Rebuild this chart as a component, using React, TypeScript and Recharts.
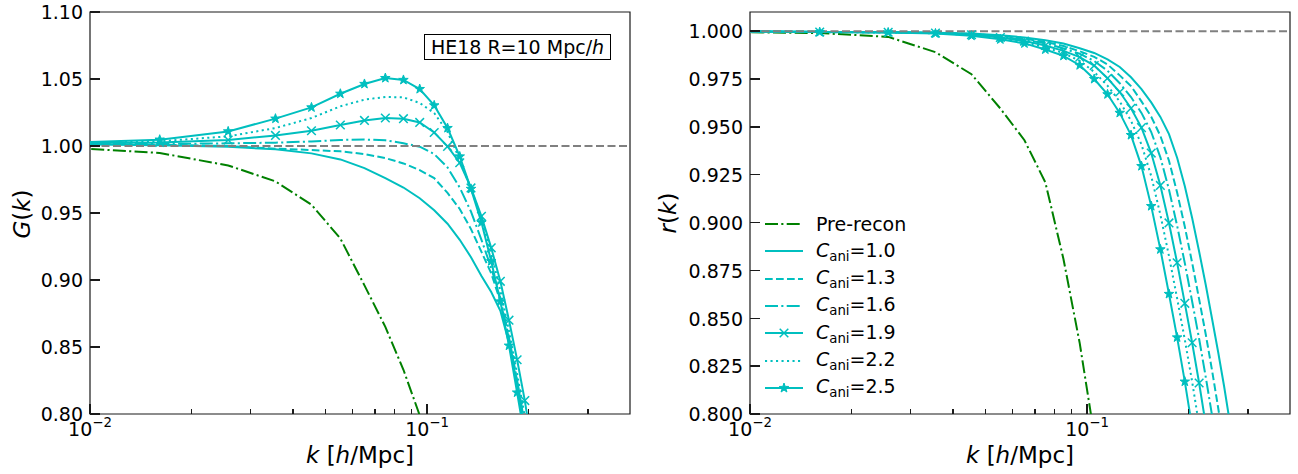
import React from 'react';
import { LineChart, Line, XAxis, YAxis, ReferenceLine, ReferenceArea } from 'recharts';

// ---------- data ----------
const K = [0.0075, 0.0161, 0.0257, 0.0355, 0.0454, 0.0553, 0.0652, 0.0752, 0.0851, 0.0951,
  0.105, 0.115, 0.125, 0.135, 0.145, 0.155, 0.165, 0.175, 0.185, 0.195,
  0.205, 0.215, 0.225, 0.235, 0.245, 0.255, 0.265, 0.275];

// G(k), left panel
const G_PRE = [0.9996, 0.9948, 0.9855, 0.9736, 0.9562, 0.931, 0.896, 0.865, 0.833, 0.799, 0.762];
const G_C10 = [1.0015, 1.0005, 0.9995, 0.9975, 0.9945, 0.990, 0.9835, 0.976, 0.969, 0.961, 0.952, 0.942, 0.930, 0.917, 0.903, 0.891, 0.877, 0.853, 0.822, 0.788, 0.752];
const G_C13 = [1.002, 1.001, 1.0, 0.998, 0.997, 0.996, 0.994, 0.991, 0.987, 0.982, 0.976, 0.965, 0.953, 0.938, 0.921, 0.905, 0.884, 0.856, 0.824, 0.791, 0.755];
const G_C16 = [1.002, 1.0015, 1.002, 1.0025, 1.0034, 1.0045, 1.0048, 1.0043, 1.002, 0.9995, 0.994, 0.984, 0.969, 0.951, 0.930, 0.909, 0.886, 0.857, 0.825, 0.792, 0.757];
const G_C19 = [1.002, 1.0027, 1.0045, 1.0079, 1.0114, 1.0157, 1.0191, 1.0209, 1.0204, 1.0176, 1.0101, 0.9997, 0.9875, 0.9687, 0.9475, 0.924, 0.899, 0.870, 0.8405, 0.810, 0.775];
const G_C22 = [1.002, 1.0035, 1.0072, 1.0134, 1.0209, 1.0296, 1.0346, 1.0366, 1.0363, 1.0321, 1.0246, 1.0105, 0.990, 0.968, 0.946, 0.920, 0.892, 0.862, 0.830, 0.798, 0.763];
const G_C25 = [1.002, 1.0047, 1.0109, 1.0204, 1.0288, 1.039, 1.0463, 1.0507, 1.0493, 1.0425, 1.0303, 1.0134, 0.9922, 0.968, 0.943, 0.914, 0.884, 0.851, 0.816, 0.782, 0.748];

// r(k), right panel
const R_PRE = [0.9997, 0.999, 0.997, 0.989, 0.9775, 0.9596, 0.943, 0.921, 0.881, 0.837, 0.789, 0.74];
const R_C10 = [1.0, 0.9996, 0.9995, 0.9992, 0.9988, 0.9979, 0.9967, 0.9952, 0.9935, 0.9911, 0.9886, 0.9853, 0.9813, 0.9759, 0.9697, 0.9628, 0.9552, 0.9462, 0.9339, 0.919, 0.9024, 0.8849, 0.8674, 0.8495, 0.8321, 0.8145, 0.796, 0.778];
const R_C13 = [1.0, 0.9996, 0.9994, 0.9991, 0.9985, 0.9976, 0.996, 0.9944, 0.9922, 0.9895, 0.9866, 0.9826, 0.9769, 0.9713, 0.9633, 0.9553, 0.9453, 0.9323, 0.9157, 0.8978, 0.879, 0.86, 0.8415, 0.8225, 0.803, 0.783];
const R_C16 = [1.0, 0.9996, 0.9994, 0.9991, 0.9983, 0.9971, 0.9955, 0.9937, 0.9909, 0.9882, 0.9844, 0.9793, 0.9728, 0.9656, 0.9573, 0.9473, 0.9341, 0.9172, 0.8984, 0.8788, 0.8588, 0.8393, 0.8192, 0.799, 0.777];
const R_C19 = [1.0, 0.9995, 0.9994, 0.999, 0.9981, 0.9967, 0.9948, 0.9925, 0.9897, 0.9864, 0.982, 0.9754, 0.9682, 0.9597, 0.9496, 0.9363, 0.9194, 0.8998, 0.879, 0.8578, 0.8372, 0.8162, 0.7944, 0.772];
const R_C22 = [1.0, 0.9995, 0.9993, 0.9989, 0.9979, 0.9962, 0.9943, 0.9916, 0.9885, 0.9845, 0.9787, 0.9715, 0.9632, 0.9532, 0.9408, 0.9243, 0.9041, 0.8825, 0.8604, 0.8388, 0.8169, 0.794, 0.7705];
const R_C25 = [1.0, 0.9995, 0.9993, 0.9988, 0.9976, 0.9957, 0.9936, 0.9904, 0.9871, 0.9822, 0.975, 0.967, 0.9573, 0.9457, 0.9295, 0.9086, 0.886, 0.8627, 0.840, 0.8169, 0.793, 0.768];

const SERIES_LABELS = ['Pre-recon', '1.0', '1.3', '1.6', '1.9', '2.2', '2.5'];
const X_DOMAIN = [0.01, 0.4];
const X_TICKS = [0.01, 0.02, 0.03, 0.04, 0.05, 0.06, 0.07, 0.08, 0.09, 0.1, 0.2, 0.3];
const G_TICKS = [0.8, 0.85, 0.9, 0.95, 1.0, 1.05, 1.1];
const R_TICKS = [0.8, 0.825, 0.85, 0.875, 0.9, 0.925, 0.95, 0.975, 1.0];

// ---------- styles ----------
const CYAN = '#00bfbf';
const GREEN = '#008000';
const GRAY = '#808080';
const AXIS = '#1a1a1a';
const FONT = '"DejaVu Sans", sans-serif';
const FS = 19;

type Style = { key: string; color: string; dash?: string; marker?: 'x' | 'star' };
const STYLES: Style[] = [
  { key: 'pre', color: GREEN, dash: '13 3.3 2.1 3.3' },
  { key: 'c10', color: CYAN },
  { key: 'c13', color: CYAN, dash: '7.7 3.3' },
  { key: 'c16', color: CYAN, dash: '13 3.3 2.1 3.3' },
  { key: 'c19', color: CYAN, marker: 'x' },
  { key: 'c22', color: CYAN, dash: '2.1 3.4' },
  { key: 'c25', color: CYAN, marker: 'star' },
];

function buildRows(arrs: number[][]) {
  return K.map((k, i) => {
    const row: any = { k };
    STYLES.forEach((s, j) => {
      const v = arrs[j][i];
      row[s.key] = v === undefined ? null : v;
    });
    return row;
  });
}
const G_ROWS = buildRows([G_PRE, G_C10, G_C13, G_C16, G_C19, G_C22, G_C25]);
const R_ROWS = buildRows([R_PRE, R_C10, R_C13, R_C16, R_C19, R_C22, R_C25]);

function starPoints(cx: number, cy: number, ro: number, ri: number) {
  const pts: string[] = [];
  for (let i = 0; i < 10; i++) {
    const r = i % 2 === 0 ? ro : ri;
    const a = -Math.PI / 2 + (i * Math.PI) / 5;
    pts.push(`${cx + r * Math.cos(a)},${cy + r * Math.sin(a)}`);
  }
  return pts.join(' ');
}

const StarDot = (p: any) => {
  const { cx, cy } = p;
  if (cx == null || cy == null || !isFinite(cx) || !isFinite(cy)) return null;
  return <polygon points={starPoints(cx, cy, 5, 2)} fill={CYAN} stroke={CYAN} strokeWidth={1} />;
};
const XDot = (p: any) => {
  const { cx, cy } = p;
  if (cx == null || cy == null || !isFinite(cx) || !isFinite(cy)) return null;
  const s = 4.3;
  return (
    <g stroke={CYAN} strokeWidth={1.5}>
      <line x1={cx - s} y1={cy - s} x2={cx + s} y2={cy + s} />
      <line x1={cx - s} y1={cy + s} x2={cx + s} y2={cy - s} />
    </g>
  );
};

const isMajor = (v: number) => Math.abs(Math.log10(v) - Math.round(Math.log10(v))) < 1e-6;

const XTick = (props: any) => {
  const { x, y, payload } = props;
  const v = payload.value;
  const major = isMajor(v);
  const exp = Math.round(Math.log10(v));
  return (
    <g>
      <line x1={x} x2={x} y1={y} y2={y - (major ? 10 : 5)} stroke={AXIS} strokeWidth={1.3} shapeRendering="crispEdges" />
      {major && (
        <text x={x} y={y + 22} textAnchor="middle" fontSize={FS} fontFamily={FONT} fill="#000">
          10<tspan dy={-9} fontSize={13.3}>{'\u2212' + String(-exp)}</tspan>
        </text>
      )}
    </g>
  );
};

const makeYTick = (digits: number) => (props: any) => {
  const { x, y, payload } = props;
  return (
    <g>
      <line x1={x} x2={x + 10} y1={y} y2={y} stroke={AXIS} strokeWidth={1.3} shapeRendering="crispEdges" />
      <text x={x - 7} y={y + 7.3} textAnchor="end" fontSize={FS} fontFamily={FONT} fill="#000">
        {Number(payload.value).toFixed(digits)}
      </text>
    </g>
  );
};
const GTick = makeYTick(2);
const RTick = makeYTick(3);

function Panel(props: { rows: any[]; yDomain: number[]; yTicks: number[]; tick: any; marginLeft: number; marginRight: number }) {
  const { rows, yDomain, yTicks, tick, marginLeft, marginRight } = props;
  return (
    <LineChart width={649} height={474} data={rows} margin={{ top: 12, right: marginRight, bottom: 59, left: marginLeft - 1 }}>
      <XAxis
        dataKey="k"
        type="number"
        scale="log"
        domain={X_DOMAIN}
        allowDataOverflow
        ticks={X_TICKS}
        interval={0}
        height={1}
        tickSize={0}
        tickMargin={0}
        axisLine={false}
        tickLine={false}
        tick={<XTick />}
      />
      <YAxis
        type="number"
        domain={yDomain}
        allowDataOverflow
        ticks={yTicks}
        interval={0}
        width={1}
        tickSize={0}
        tickMargin={0}
        axisLine={false}
        tickLine={false}
        tick={tick}
      />
      {STYLES.map((s) => (
        <Line
          key={s.key}
          dataKey={s.key}
          type="linear"
          stroke={s.color}
          strokeWidth={2}
          strokeDasharray={s.dash}
          connectNulls={false}
          isAnimationActive={false}
          activeDot={false}
          dot={
            s.marker === 'star'
              ? (p: any) => <StarDot key={`s${p.index}`} {...p} />
              : s.marker === 'x'
              ? (p: any) => <XDot key={`x${p.index}`} {...p} />
              : false
          }
        />
      ))}
      <ReferenceLine y={1} stroke={GRAY} strokeWidth={2} strokeDasharray="8 3.5" />
      <ReferenceArea x1={X_DOMAIN[0]} x2={X_DOMAIN[1]} y1={yDomain[0]} y2={yDomain[1]} fill="none" fillOpacity={0} stroke={AXIS} strokeWidth={1.2} />
    </LineChart>
  );
}

function LegendSample({ s }: { s: Style }) {
  return (
    <svg width={40} height={14} style={{ display: 'block' }}>
      <line x1={1} x2={39} y1={7} y2={7} stroke={s.color} strokeWidth={2} strokeDasharray={s.dash} />
      {s.marker === 'star' && <polygon points={starPoints(20, 7, 5, 2)} fill={CYAN} stroke={CYAN} strokeWidth={1} />}
      {s.marker === 'x' && (
        <g stroke={CYAN} strokeWidth={1.5}>
          <line x1={15.7} y1={2.7} x2={24.3} y2={11.3} />
          <line x1={15.7} y1={11.3} x2={24.3} y2={2.7} />
        </g>
      )}
    </svg>
  );
}

const abs = (o: React.CSSProperties): React.CSSProperties => ({ position: 'absolute', whiteSpace: 'nowrap', ...o });

export default function App() {
  return (
    <div style={{ position: 'absolute', left: 0, top: 0, width: 1298, height: 474, background: '#fff', fontFamily: FONT, color: '#000' }}>
      <div style={abs({ left: 0, top: 0 })}>
        <Panel rows={G_ROWS} yDomain={[0.8, 1.1]} yTicks={G_TICKS} tick={<GTick />} marginLeft={90} marginRight={19} />
      </div>
      <div style={abs({ left: 649, top: 0 })}>
        <Panel rows={R_ROWS} yDomain={[0.8, 1.01]} yTicks={R_TICKS} tick={<RTick />} marginLeft={101} marginRight={8} />
      </div>

      {/* annotation */}
      <div style={abs({ left: 424, top: 34, width: 187, height: 26, border: '1px solid #000', boxSizing: 'border-box', background: '#fff', fontSize: FS, lineHeight: '24px', textAlign: 'center' })}>
        HE18 R=10 Mpc/<i>h</i>
      </div>

      {/* axis labels */}
      <div style={abs({ left: 360, top: 455, transform: 'translate(-50%, -50%)', fontSize: 23 })}>
        <i>k</i> [<i>h</i>/Mpc]
      </div>
      <div style={abs({ left: 1020, top: 455, transform: 'translate(-50%, -50%)', fontSize: 23 })}>
        <i>k</i> [<i>h</i>/Mpc]
      </div>
      <div style={abs({ left: 22, top: 214, transform: 'translate(-50%, -50%) rotate(-90deg)', fontSize: 23 })}>
        <i>G</i>(<i>k</i>)
      </div>
      <div style={abs({ left: 668, top: 213, transform: 'translate(-50%, -50%) rotate(-90deg)', fontSize: 23 })}>
        <i>r</i>(<i>k</i>)
      </div>

      {/* legend */}
      {STYLES.map((s, i) => (
        <div key={s.key} style={abs({ left: 764, top: 224 + i * 27.3 - 13, height: 26, display: 'flex', alignItems: 'center', fontSize: FS })}>
          <LegendSample s={s} />
          <span style={{ marginLeft: 12, lineHeight: '26px' }}>
            {i === 0 ? (
              SERIES_LABELS[0]
            ) : (
              <>
                <i>C</i>
                <span style={{ fontSize: 13.3, position: 'relative', top: 4 }}>ani</span>={SERIES_LABELS[i]}
              </>
            )}
          </span>
        </div>
      ))}
    </div>
  );
}
